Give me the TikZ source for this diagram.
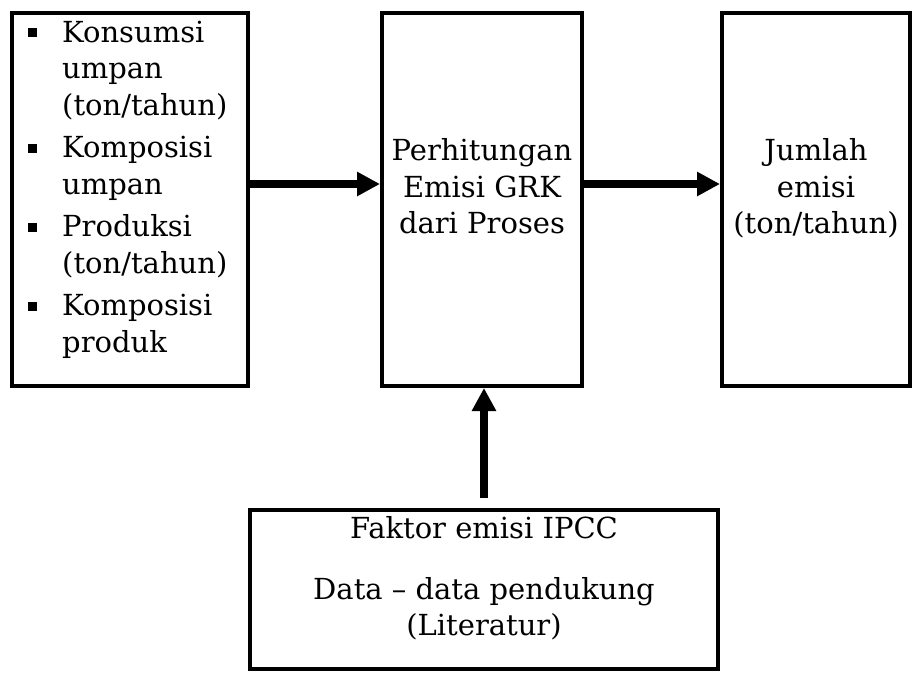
\documentclass[tikz,border=0pt]{standalone}
\usepackage{fontspec}
\setmainfont{DejaVu Serif}
\usetikzlibrary{arrows.meta}

% filled square used as list bullet
\newcommand{\sqbullet}{\rule[5pt]{9pt}{9pt}}

\begin{document}
\begin{tikzpicture}[x=1pt,y=-1pt,
  box/.style={draw, line width=4pt, inner sep=0pt, minimum height=373pt},
  label/.style={inner sep=0pt, anchor=base, font=\fontsize{29}{36.6}\selectfont},
  link/.style={line width=8pt, -{Triangle[length=23pt,width=23pt]}}]
  \useasboundingbox (0,0) rectangle (912,673);

  % boxes
  \node[box, minimum width=236pt] (inputs) at (130,199.5) {};
  \node[box, minimum width=200pt] (calc)   at (482,199.5) {};
  \node[box, minimum width=188pt] (result) at (816,199.5) {};
  \node[box, minimum width=468pt, minimum height=159pt] (factors) at (484,589.5) {};

  % texts
  \node[label, anchor=base west] (inputs-text) at (28,42) {%
    \begin{tabular}[t]{@{}p{34pt}@{}l@{}}
      \sqbullet & Konsumsi\\
                & umpan\\
                & (ton/tahun)\\[5.8pt]
      \sqbullet & Komposisi\\
                & umpan\\[5.8pt]
      \sqbullet & Produksi\\
                & (ton/tahun)\\[5.8pt]
      \sqbullet & Komposisi\\
                & produk
    \end{tabular}};
  \node[label] (calc-text) at (482,160.5) {%
    \begin{tabular}[t]{@{}c@{}}Perhitungan\\ Emisi GRK\\ dari Proses\end{tabular}};
  \node[label] (result-text) at (816,160.5) {%
    \begin{tabular}[t]{@{}c@{}}Jumlah\\ emisi\\ (ton/tahun)\end{tabular}};
  \node[label] (factors-text1) at (484,538) {Faktor emisi IPCC};
  \node[label] (factors-text2) at (484,599) {%
    \begin{tabular}[t]{@{}c@{}}Data -- data pendukung\\ (Literatur)\end{tabular}};

  % connectors
  \draw[link] ([yshift=15.5pt]inputs.east) -- ([yshift=15.5pt]calc.west);
  \draw[link] ([yshift=15.5pt]calc.east) -- ([yshift=15.5pt]result.west);
  \draw[link, shorten <=10pt] (factors.north) -- (factors.north |- calc.south);
\end{tikzpicture}
\end{document}
